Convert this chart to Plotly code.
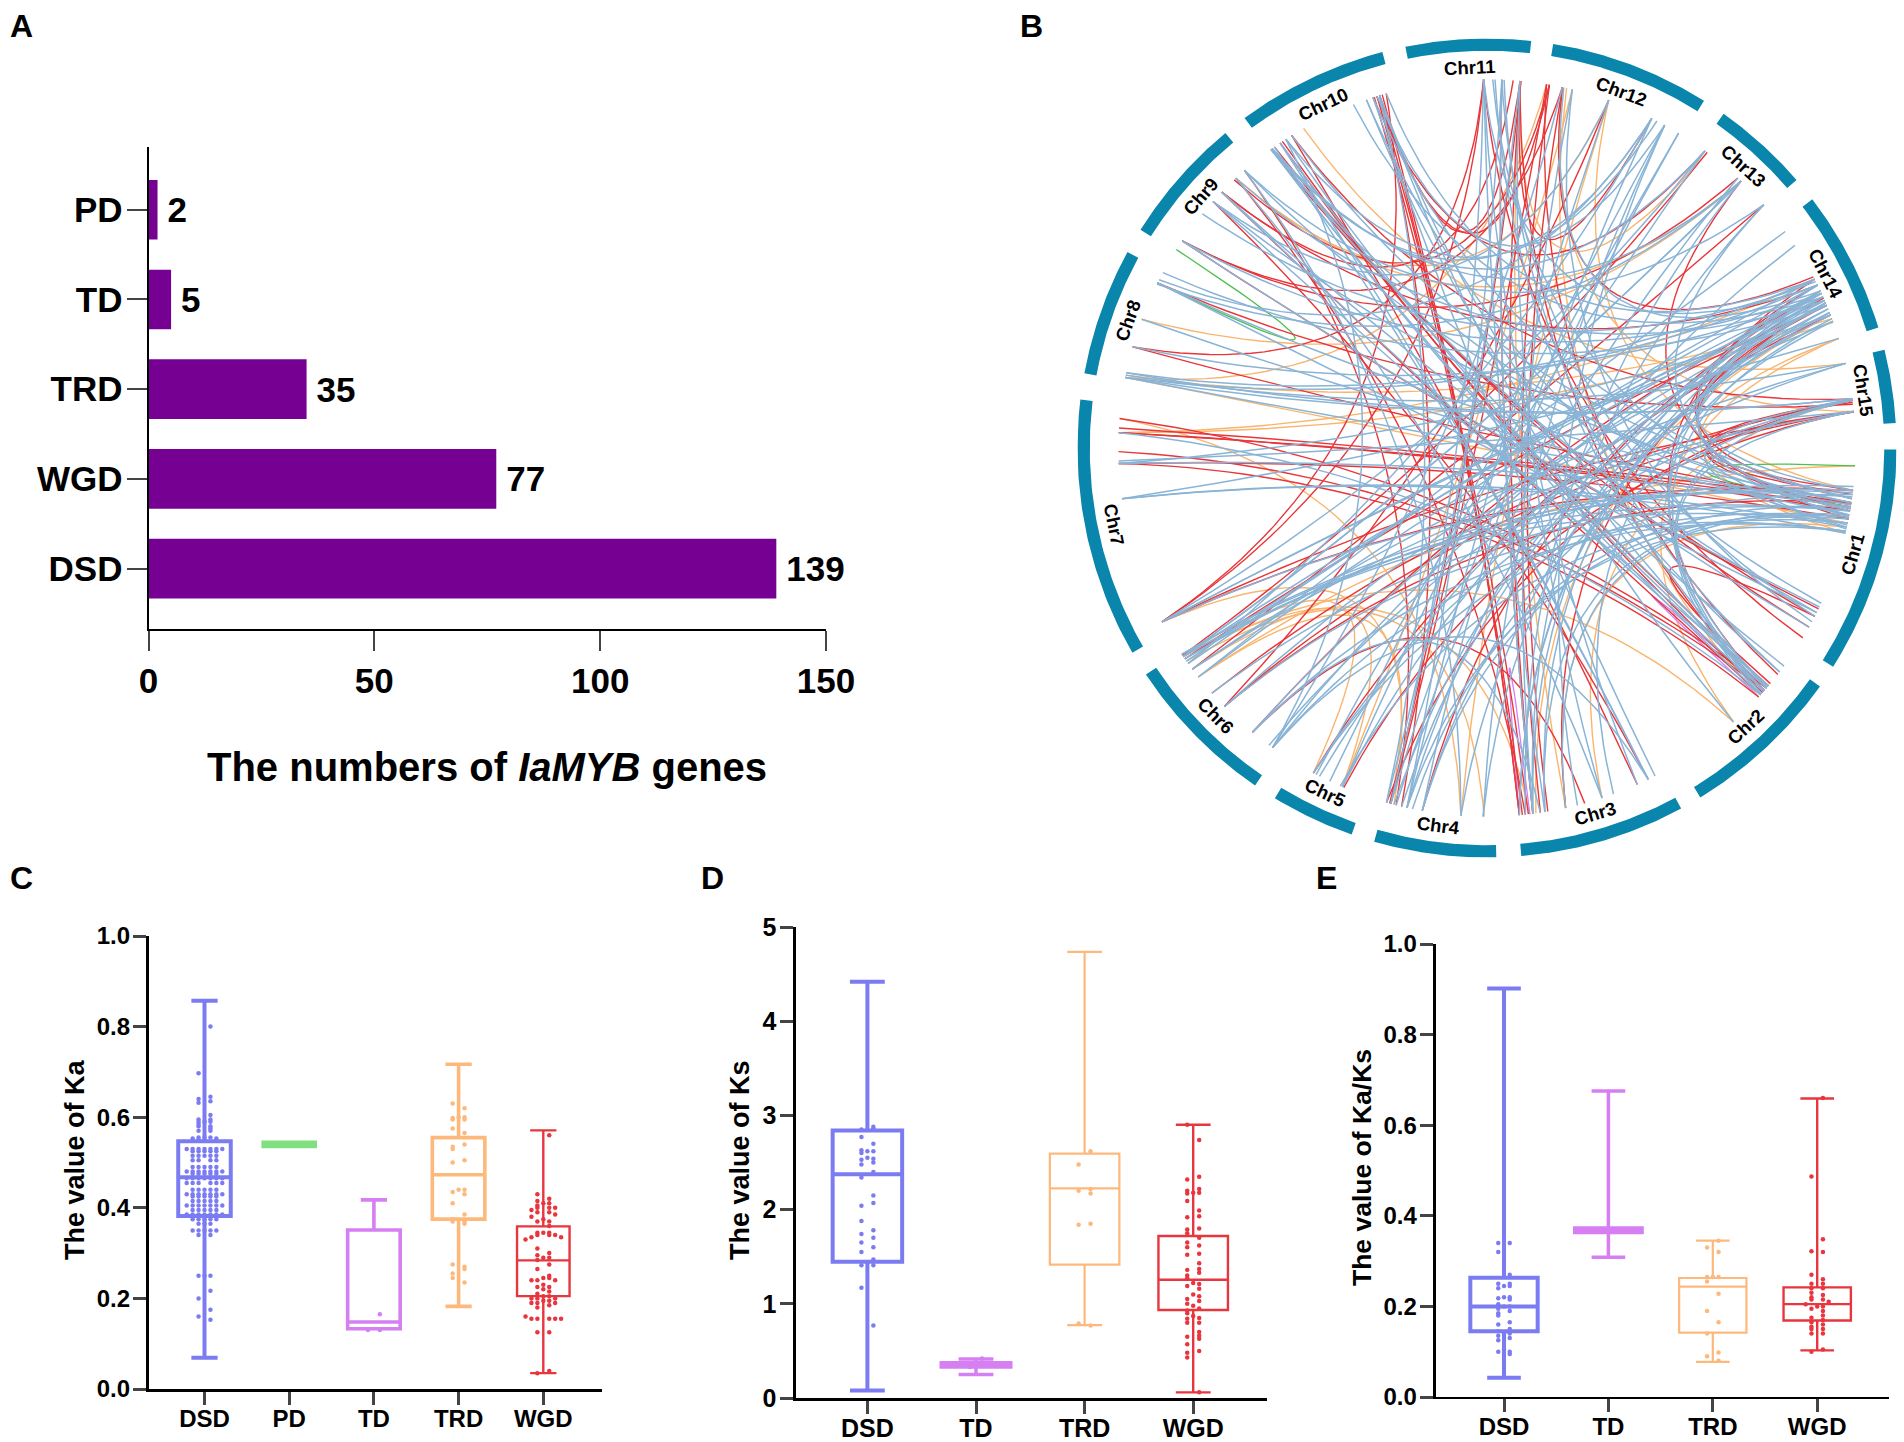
import numpy as np
import plotly.graph_objects as go

W, H = 1904, 1442
FONT = "Liberation Sans"

# ---------- Panel A ----------
dup_types = ["DSD", "WGD", "TRD", "TD", "PD"]
gene_counts = [139, 77, 35, 5, 2]

# ---------- Panel B ----------
chr_names = ["Chr1", "Chr2", "Chr3", "Chr4", "Chr5", "Chr6", "Chr7", "Chr8",
             "Chr9", "Chr10", "Chr11", "Chr12", "Chr13", "Chr14", "Chr15"]
chr_start_deg = [90.2, 125.6, 151.7, 178.7, 199.3, 214.5, 240.0, 280.5,
                 302.2, 323.7, 348.5, 9.3, 35.3, 52.6, 76.1]
chr_end_deg = [122.3, 148.6, 175.2, 196.0, 211.2, 236.4, 276.8, 298.6,
               320.3, 345.2, 366.2, 32.0, 49.1, 72.9, 86.5]

# links: (chromosome, fraction along it, chromosome, fraction along it)
links_red = [
    (1, .20, 15, .62), (1, .22, 15, .79), (1, .24, 14, .55), (1, .26, 6, .50), (1, .27, 8, .30),
    (1, .28, 7, .88), (1, .34, 13, .60), (1, .80, 9, .11), (1, .84, 10, .02), (1, .96, 11, .62),
    (1, .26, 15, .65), (1, .29, 14, .72), (1, .30, 14, .66), (1, .90, 10, .05),
    (2, .20, 10, .10), (2, .24, 11, .94), (2, .28, 9, .65), (2, .22, 14, .50), (2, .10, 12, .00),
    (2, .18, 1, .84), (2, .26, 10, .12), (2, .30, 7, .75),
    (3, .10, 9, .54), (3, .18, 10, .20), (3, .90, 11, .78), (3, .99, 10, .92), (3, .99, 10, .90),
    (3, .95, 9, .82), (3, .80, 12, .11), (3, .68, 14, .70), (3, .55, 6, .23), (3, .97, 10, .86),
    (3, .93, 10, .88), (3, .90, 11, .94), (3, .85, 12, .02),
    (4, .95, 12, .00), (4, .96, 11, .95), (4, .99, 15, .60), (4, .66, 14, .60), (5, .30, 15, .79),
    (4, .90, 9, .92), (4, .85, 10, .90),
    (5, .74, 14, .80), (6, .50, 12, .44), (6, .63, 15, .62), (7, .05, 15, .80), (7, .05, 1, .20),
    (6, .85, 13, .97), (6, .23, 14, .62), (7, .05, 11, .62), (7, .05, 10, .95),
    (6, .50, 15, .79), (6, .94, 14, .72), (6, .97, 13, .10),
    (7, .75, 1, .34), (7, .88, 1, .30), (7, .94, 2, .22), (8, .89, 15, .68), (8, .30, 11, .62),
    (7, .80, 2, .24), (7, .90, 1, .26),
    (9, .11, 13, .55), (9, .65, 14, .55), (10, .20, 15, .60), (10, .90, 11, .94), (10, .88, 12, .02),
    (9, .11, 12, .11), (9, .65, 11, .88), (9, .80, 12, .02),
    (10, .85, 13, .07), (11, .94, 12, .76), (12, .11, 14, .48),
]
links_orange = [
    (1, .08, 6, .78), (1, .20, 12, .44), (1, .36, 8, .03), (1, .41, 14, .99), (1, .38, 3, .68),
    (2, .54, 14, .99), (2, .54, 6, .96), (3, .68, 11, .94), (3, .92, 6, .96), (3, .88, 14, .80),
    (4, .31, 7, .94), (4, .31, 12, .44), (4, .95, 6, .78), (4, .92, 7, .05), (5, .32, 12, .18),
    (6, .85, 5, .32), (6, .96, 5, .74), (6, .92, 4, .10), (7, .88, 14, .86), (8, .03, 12, .00),
    (8, .05, 14, .83), (9, .82, 13, .60), (9, .82, 12, .44), (10, .30, 15, .06), (11, .94, 13, .10),
    (12, .11, 15, .79), (12, .14, 2, .30), (13, .60, 8, .55), (14, .50, 7, .88), (15, .60, 3, .43),
]
links_green = [(8, .89, 9, .02), (1, .08, 1, .28)]
links_magenta = [(2, .24, 2, .30), (3, .92, 3, .99)]
links_blue = [
    (1, .20, 14, .60), (1, .24, 10, .85), (1, .26, 9, .54), (1, .27, 8, .03),
    (1, .28, 7, .75), (1, .30, 6, .63), (1, .33, 4, .66), (1, .34, 3, .68),
    (1, .36, 6, .96), (1, .37, 15, .60), (1, .38, 10, .02),
    (1, .40, 6, .50), (1, .41, 7, .60), (1, .77, 10, .80), (1, .79, 9, .11), (1, .82, 8, .89),
    (1, .84, 11, .78), (1, .87, 12, .18), (1, .18, 6, .98), (1, .21, 6, .94),
    (1, .23, 7, .05), (1, .29, 14, .70), (1, .32, 14, .75), (1, .33, 13, .97),
    (2, .03, 10, .10), (2, .08, 11, .80), (2, .20, 10, .15), (2, .22, 10, .02), (2, .24, 9, .65),
    (2, .28, 7, .88), (2, .25, 14, .60), (2, .27, 14, .70), (2, .28, 15, .62), (2, .54, 10, .90),
    (3, .10, 10, .05), (3, .18, 11, .62), (3, .43, 9, .82), (3, .82, 14, .65),
    (3, .90, 14, .55), (3, .99, 14, .75), (3, .95, 13, .60), (3, .35, 14, .85),
    (3, .82, 1, .32), (3, .10, 6, .05), (3, .85, 6, .23), (3, .60, 12, .86),
    (4, .11, 14, .62), (4, .31, 14, .80), (4, .66, 15, .60), (4, .80, 1, .40),
    (4, .95, 12, .97), (4, .90, 13, .55), (4, .85, 14, .70), (4, .66, 12, .76),
    (4, .80, 11, .78), (4, .31, 9, .92), (4, .75, 1, .28),
    (5, .32, 14, .68), (5, .74, 15, .60), (5, .70, 13, .07), (5, .50, 12, .86),
    (5, .74, 1, .22), (5, .35, 1, .36), (5, .65, 14, .78),
    (6, .05, 14, .60), (6, .08, 15, .06), (6, .23, 14, .72), (6, .50, 14, .85),
    (6, .78, 14, .65), (6, .85, 15, .79), (6, .90, 14, .50), (6, .94, 1, .20),
    (6, .96, 13, .60), (6, .98, 1, .30), (6, .23, 1, .40), (6, .05, 1, .33),
    (7, .05, 14, .68), (7, .60, 14, .99), (7, .75, 14, .80), (7, .76, 15, .79),
    (7, .60, 1, .38), (8, .03, 14, .55), (8, .05, 15, .06), (8, .07, 15, .60),
    (8, .30, 14, .65), (8, .55, 1, .32), (8, .89, 1, .26), (8, .99, 14, .72),
    (8, .92, 12, .76), (8, .88, 13, .60),
    (9, .11, 14, .62), (9, .54, 2, .20), (9, .65, 1, .90), (9, .82, 14, .68),
    (9, .92, 1, .30), (9, .92, 13, .97), (9, .54, 12, .44),
    (10, .02, 2, .28), (10, .03, 1, .82), (10, .10, 3, .10), (10, .15, 6, .05),
    (10, .20, 1, .24), (10, .70, 14, .65), (10, .80, 2, .24), (10, .85, 3, .05),
    (10, .90, 2, .08), (10, .95, 14, .50), (10, .90, 4, .99), (10, .88, 12, .86),
    (10, .02, 12, .76), (10, .03, 13, .60), (10, .02, 13, .07), (10, .15, 12, .80),
    (11, .62, 3, .82), (11, .62, 4, .95), (11, .78, 3, .90), (11, .94, 4, .99),
    (11, .94, 3, .43), (11, .70, 1, .39), (11, .72, 2, .21), (11, .62, 14, .55),
    (12, .11, 6, .05), (12, .18, 3, .90), (12, .44, 4, .80), (12, .76, 6, .90),
    (12, .86, 4, .11), (12, .97, 5, .32), (12, .12, 14, .60),
    (13, .07, 7, .05), (13, .60, 6, .96), (13, .97, 3, .90),
    (14, .07, 6, .78), (14, .20, 4, .80), (14, .50, 8, .07), (14, .52, 9, .40),
    (14, .55, 6, .92), (14, .62, 6, .96), (14, .65, 4, .92), (14, .72, 7, .05),
    (14, .78, 3, .99), (14, .83, 2, .22),
    (15, .06, 6, .85), (15, .60, 8, .03), (15, .79, 2, .25),
]

# ---------- Panels C, D, E ----------
ka_categories = ["DSD", "PD", "TD", "TRD", "WGD"]
ks_categories = ["DSD", "TD", "TRD", "WGD"]
ratio_categories = ["DSD", "TD", "TRD", "WGD"]

ka_low = [.069, .535, .133, .1825, .035]
ka_q1 = [.382, .535, .133, .375, .205]
ka_median = [.4675, .54, .148, .473, .284]
ka_q3 = [.547, .545, .351, .555, .359]
ka_high = [.857, .545, .4175, .717, .571]

ks_low = [.08, .249, .774, .06]
ks_q1 = [1.447, .329, 1.415, .934]
ks_median = [2.374, .353, 2.225, 1.255]
ks_q3 = [2.84, .375, 2.594, 1.72]
ks_high = [4.42, .413, 4.735, 2.9]

ratio_low = [.0425, .3086, .0776, .103]
ratio_q1 = [.145, .363, .142, .169]
ratio_median = [.2, .368, .2435, .205]
ratio_q3 = [.2635, .373, .2627, .242]
ratio_high = [.902, .6755, .345, .659]

ka_dsd = [.80, .697, .645, .64, .635, .632, .605, .595, .595, .59, .59, .59, .585, .58, .58, .575, .57, .57,
          .555, .555, .555, .553, .553, .55, .53, .53, .53, .53, .53, .53, .53, .525, .525, .525, .525, .525,
          .515, .515, .515, .515, .515, .505, .505, .505, .505, .49, .49, .49, .49, .49, .48, .48, .48, .48,
          .48, .48, .48, .475, .475, .475, .475, .475, .465, .465, .465, .465, .465, .465, .465, .455, .455,
          .455, .455, .455, .455, .44, .44, .44, .44, .44, .43, .43, .43, .43, .43, .43, .43, .425, .425, .425,
          .425, .425, .415, .415, .415, .415, .415, .405, .405, .405, .405, .405, .405, .405, .395, .395, .395,
          .395, .395, .385, .385, .385, .385, .385, .385, .385, .375, .375, .375, .375, .375, .365, .365, .365,
          .35, .35, .35, .35, .35, .34, .34, .25, .25, .25, .217, .2, .175, .16, .153]
ka_td = [.165, .13, .13]
ka_trd = [.63, .62, .6, .6, .598, .595, .595, .575, .565, .54, .535, .53, .505, .5, .44, .44, .435, .43, .41,
          .385, .375, .37, .37, .365, .275, .27, .265, .255, .245, .235]
ka_wgd = [.56, .43, .42, .415, .41, .41, .405, .40, .40, .40, .395, .39, .39, .385, .38, .375, .37, .37, .36, .345,
          .345, .345, .34, .34, .34, .335, .335, .33, .31, .30, .295, .29, .29, .285, .275, .265, .25, .245, .245,
          .24, .24, .24, .23, .225, .225, .22, .215, .21, .205, .205, .2, .2, .2, .195, .195, .19, .19, .19, .185,
          .18, .155, .155, .155, .155, .155, .16, .125, .125, .04, .035]

ks_dsd = [2.88, 2.86, 2.85, 2.77, 2.7, 2.63, 2.62, 2.62, 2.6, 2.55, 2.54, 2.53, 2.5, 2.48, 2.4, 2.34, 2.15, 2.07,
          2.04, 1.88, 1.78, 1.74, 1.7, 1.65, 1.6, 1.55, 1.47, 1.41, 1.41, 1.17, .77]
ks_td = [.42, .37, .35, .33]
ks_trd = [2.62, 2.48, 2.22, 2.2, 2.17, 1.85, 1.84, .79, .77]
ks_wgd = [2.9, 2.74, 2.35, 2.32, 2.22, 2.2, 2.18, 2.18, 2.17, 2.09, 1.99, 1.93, 1.92, 1.8, 1.79, 1.75, 1.7, 1.65,
          1.62, 1.6, 1.53, 1.52, 1.43, 1.37, 1.36, 1.33, 1.3, 1.27, 1.22, 1.21, 1.19, 1.16, 1.1, 1.08, 1.05, 1.03,
          1.0, .98, .95, .93, .9, .87, .85, .84, .8, .8, .7, .66, .65, .63, .57, .5, .48, .43, .06]

ratio_dsd = [.34, .34, .32, .27, .25, .25, .245, .245, .24, .22, .22, .218, .215, .205, .2, .2, .195, .19, .185,
             .18, .165, .16, .15, .145, .14, .14, .135, .13, .125, .105, .1, .1, .095]
ratio_td = [.37]
ratio_trd = [.345, .33, .32, .265, .265, .265, .255, .228, .19, .165, .14, .098, .09, .08]
ratio_wgd = [.66, .487, .348, .322, .32, .27, .26, .25, .25, .24, .24, .23, .225, .22, .215, .215, .21, .205, .2,
             .2, .195, .19, .18, .175, .17, .165, .16, .155, .15, .15, .14, .14, .105, .1]

COL = {"DSD": "#7b7bf2", "PD": "#80e080", "TD": "#d67ff2", "TRD": "#fdb97c", "WGD": "#e8363e"}


def xdom(a, b):
    return [a / W, b / W]


def ydom(top, bottom):
    return [1 - bottom / H, 1 - top / H]


def swarm(values, center, step, binsize):
    """Prism-like column swarm: values in the same bin spread out sideways."""
    bins = {}
    for v in values:
        bins.setdefault(round(v / binsize), []).append(v)
    xs, ys = [], []
    lone = 1
    for key in sorted(bins):
        members = bins[key]
        n = len(members)
        if n == 1:
            order = [lone]
            lone = -lone
        elif n % 2 == 1:
            order = [0] + [s * k for k in range(1, n // 2 + 1) for s in (1, -1)]
        else:
            order = [s * k for k in range(1, n // 2 + 1) for s in (1, -1)]
        for v, col in zip(members, order):
            xs.append(center + col * step)
            ys.append(v)
    return xs, ys


fig = go.Figure()

# ---- A ----
fig.add_trace(go.Bar(
    x=gene_counts, y=list(range(len(dup_types))), orientation="h", width=.665,
    marker=dict(color="#750092", line=dict(width=0)), text=gene_counts, texttemplate="\u2009%{x}",
    textposition="outside", cliponaxis=False,
    textfont=dict(family=FONT, size=35, color="black", weight="bold"),
    xaxis="x", yaxis="y", showlegend=False))

# ---- B ----
def ring_polygon(i):
    a = np.radians(np.linspace(chr_start_deg[i], chr_end_deg[i], 60))
    xs = np.r_[np.sin(a), .97 * np.sin(a[::-1])]
    ys = np.r_[np.cos(a), .97 * np.cos(a[::-1])]
    return xs, ys


def end_point(c, frac, r=.9):
    i = c - 1
    a = np.radians(chr_start_deg[i] + frac * (chr_end_deg[i] - chr_start_deg[i]))
    return np.array([r * np.sin(a), r * np.cos(a)])


def link_path(links):
    xs, ys = [], []
    t = np.linspace(0, 1, 40)
    for c1, f1, c2, f2 in links:
        p0, p2 = end_point(c1, f1), end_point(c2, f2)
        ctrl = .1 * (p0 + p2)
        curve = np.outer((1 - t) ** 2, p0) + np.outer(2 * t * (1 - t), ctrl) + np.outer(t ** 2, p2)
        xs += list(curve[:, 0]) + [None]
        ys += list(curve[:, 1]) + [None]
    return xs, ys


for links, color, lw in [(links_orange, "#f9b56e", 1.4), (links_green, "#4ec04e", 1.3),
                         (links_magenta, "#d67ff2", 1.3), (links_red, "#e8363a", 1.4),
                         (links_blue, "#8ab4d6", 1.5)]:
    lx, ly = link_path(links)
    fig.add_trace(go.Scatter(x=lx, y=ly, mode="lines", line=dict(color=color, width=lw),
                             xaxis="x2", yaxis="y2", showlegend=False, hoverinfo="skip"))

for i in range(len(chr_names)):
    rx, ry = ring_polygon(i)
    fig.add_trace(go.Scatter(x=rx, y=ry, mode="lines", fill="toself", fillcolor="#0a85ab",
                             line=dict(width=0, color="#0a85ab"), xaxis="x2", yaxis="y2",
                             showlegend=False, hoverinfo="skip"))
    mid = (chr_start_deg[i] + chr_end_deg[i]) / 2 % 360
    a = np.radians(mid)
    angle = mid if (mid < 90 or mid > 270) else mid - 180
    if angle > 180:
        angle -= 360
    fig.add_annotation(x=.93 * np.sin(a), y=.93 * np.cos(a), xref="x2", yref="y2", text=chr_names[i],
                       showarrow=False, textangle=angle,
                       font=dict(family=FONT, size=18.5, color="black", weight="bold"))


# ---- C, D, E ----
def box_panel(cats, low, q1, med, q3, high, points, xa, ya, lws, step, binsizes, wbox):
    for k, cat in enumerate(cats):
        fig.add_trace(go.Box(x=[k], q1=[q1[k]], median=[med[k]], q3=[q3[k]], lowerfence=[low[k]],
                             upperfence=[high[k]], width=wbox, whiskerwidth=.5,
                             line=dict(color=COL[cat], width=lws[k]), fillcolor="rgba(0,0,0,0)",
                             boxpoints=False, xaxis=xa, yaxis=ya, showlegend=False, hoverinfo="skip"))
        if points[k]:
            sx, sy = swarm(points[k], k, step, binsizes[k])
            fig.add_trace(go.Scatter(x=sx, y=sy, mode="markers", cliponaxis=False,
                                     marker=dict(color=COL[cat], size=4.5, line=dict(width=0)),
                                     xaxis=xa, yaxis=ya, showlegend=False, hoverinfo="skip"))


box_panel(ka_categories, ka_low, ka_q1, ka_median, ka_q3, ka_high,
          [ka_dsd, [], ka_td, ka_trd, ka_wgd], "x3", "y3", [4, 3, 3.6, 3.6, 2.4], .07,
          [.005, .01, .01, .01, .012], .62)
box_panel(ks_categories, ks_low, ks_q1, ks_median, ks_q3, ks_high,
          [ks_dsd, ks_td, ks_trd, ks_wgd], "x4", "y4", [4, 3.5, 2.2, 2.4], .055, [.05, .05, .05, .06], .64)
box_panel(ratio_categories, ratio_low, ratio_q1, ratio_median, ratio_q3, ratio_high,
          [ratio_dsd, ratio_td, ratio_trd, ratio_wgd], "x5", "y5", [4, 3.5, 2.2, 2.4], .055,
          [.0105, .0105, .0105, .0105], .645)

bold = lambda s: dict(family=FONT, size=s, color="black", weight="bold")


def x_range(left, right, zero, spacing):
    return [(left - zero) / spacing, (right - zero) / spacing]


layout = dict(
    width=W, height=H, autosize=False, margin=dict(l=0, r=0, t=0, b=0),
    paper_bgcolor="white", plot_bgcolor="white", boxmode="overlay",
    font=dict(family=FONT, color="black"),
    xaxis=dict(domain=xdom(148.5, 826), range=[0, 150], anchor="y", tickvals=[0, 50, 100, 150], ticks="outside",
               ticklen=20, tickwidth=2, showline=True, linewidth=2, linecolor="black", showgrid=False,
               zeroline=False, tickfont=bold(35), ticklabelstandoff=0, automargin=False),
    yaxis=dict(domain=ydom(147.4, 628.7), range=[-.67, 4.695], anchor="x", tickvals=list(range(5)), ticktext=dup_types,
               ticks="outside", ticklen=20, tickwidth=2, showline=True, linewidth=2, linecolor="black",
               showgrid=False, zeroline=False, tickfont=bold(35), ticklabelstandoff=-3, automargin=False),
    xaxis2=dict(domain=xdom(1077.5, 1896.5), range=[-1, 1], anchor="y2", visible=False, automargin=False),
    yaxis2=dict(domain=ydom(38.5, 857.5), range=[-1, 1], anchor="x2", visible=False, automargin=False),
)


def panel_axes(n, left, right, top, bottom, cats, zero, spacing, yrange, ytickvals, ytickfmt, size, lw_y, lw_x, xoff):
    layout[f"xaxis{n}"] = dict(domain=xdom(left, right), range=x_range(left, right, zero, spacing), anchor=f"y{n}",
                               tickvals=list(range(len(cats))), ticktext=cats, ticks="outside", ticklen=13, tickwidth=2.5,
                               showline=True, linewidth=lw_x, linecolor="black", showgrid=False, zeroline=False,
                               tickfont=bold(size), ticklabelstandoff=xoff, automargin=False)
    layout[f"yaxis{n}"] = dict(domain=ydom(top, bottom), range=yrange, anchor=f"x{n}", tickvals=ytickvals,
                               tickformat=ytickfmt, ticks="outside", ticklen=13, tickwidth=2.5, showline=True,
                               linewidth=lw_y, linecolor="black", showgrid=False, zeroline=False,
                               tickfont=bold(size), ticklabelstandoff=-2, automargin=False)


panel_axes(3, 148.6, 602, 936, 1389, ka_categories, 204.5, 84.7, [0, 1], [0, .2, .4, .6, .8, 1], ".1f", 24, 2.5, 2.5, -7)
panel_axes(4, 795.5, 1267, 927, 1398, ks_categories, 867.4, 108.6, [0, 5], [0, 1, 2, 3, 4, 5], "d", 25, 3, 3, -7)
panel_axes(5, 1435.6, 1888.6, 944, 1397, ratio_categories, 1504, 104.4, [0, 1], [0, .2, .4, .6, .8, 1], ".1f", 24, 3, 2.2, -6)
fig.update_layout(**layout)


def paper_text(x, y, text, size, angle=0, weight="bold"):
    fig.add_annotation(x=x / W, y=1 - y / H, xref="paper", yref="paper", text=text, showarrow=False,
                       textangle=angle, xanchor="center", yanchor="middle",
                       font=dict(family=FONT, size=size, color="black", weight=weight))


for letter, px, py in [("A", 21, 26), ("B", 1031, 26), ("C", 21, 878), ("D", 712, 878), ("E", 1326, 878)]:
    paper_text(px, py, letter, 32)
paper_text(487, 767, "The numbers of <i>IaMYB</i> genes", 40)
paper_text(75, 1160, "The value of Ka", 27, -90)
paper_text(740, 1160, "The value of Ks", 27, -90)
paper_text(1362, 1168, "The value of Ka/Ks", 26.5, -90)

fig.write_html("out.html", config=dict(displayModeBar=False),
               post_script="document.body.style.margin='0';document.documentElement.style.overflow='hidden';")
